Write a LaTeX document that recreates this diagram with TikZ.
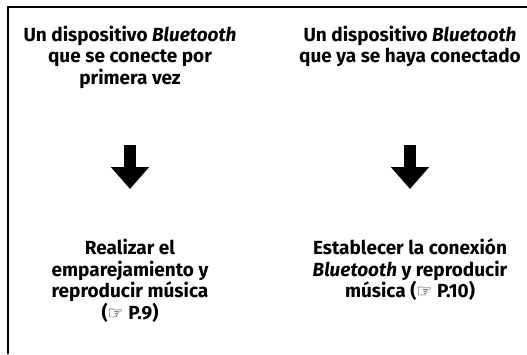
\documentclass[tikz,border=0pt]{standalone}
\usepackage{fontspec}
\setmainfont{Fira Sans}
\newfontfamily\symfont{DejaVu Sans}
\usetikzlibrary{arrows.meta}
\newcommand{\hand}{{\symfont\fontsize{18}{18}\selectfont ☞}}
\tikzset{
  lbl/.style={font=\fontsize{19}{21.5}\selectfont\bfseries, align=center, inner sep=0pt},
  bigarrow/.style={line width=12.5pt, -{Triangle[length=22pt,width=37pt]}},
  frame/.style={line width=2pt}
}
\begin{document}
\begin{tikzpicture}[x=1pt,y=-1pt]
\useasboundingbox (0,0) rectangle (527,354);
\draw[frame] (8.3,354) -- (8.3,7.2) -- (527,7.2);
\node[lbl] (t1) at (130,57) {Un dispositivo \textit{Bluetooth}\\que se conecte por\\primera vez};
\node[lbl] (t2) at (410,46.5) {Un dispositivo \textit{Bluetooth}\\que ya se haya conectado};
\node[lbl] (b1) at (130,281) {Realizar el\\emparejamiento y\\reproducir música\\(\hand\ P.9)};
\node[lbl] (b2) at (410,270) {Establecer la conexión\\\textit{Bluetooth} y reproducir\\música (\hand\ P.10)};
\coordinate (a1s) at (130,145);
\coordinate (a1e) at (130,189);
\coordinate (a2s) at (410,145);
\coordinate (a2e) at (410,189);
\draw[bigarrow] (a1s) -- (a1e);
\draw[bigarrow] (a2s) -- (a2e);
\end{tikzpicture}
\end{document}
